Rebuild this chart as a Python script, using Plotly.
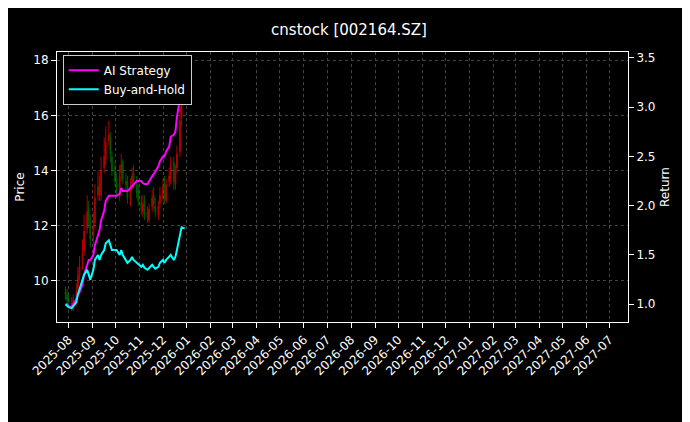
import pandas as pd
import plotly.graph_objects as go

# trading days sampled every other business day
dates = pd.bdate_range("2025-07-28", periods=56, freq="2B")

close = [9.5, 9.3, 9.2, 9.1, 9.3, 9.6, 10.2, 10.5, 11.0, 11.8, 12.5, 12.2, 11.5, 12.0,
         13.0, 13.4, 13.2, 14.0, 14.5, 15.0, 15.3, 14.6, 14.0, 13.6, 13.2, 13.8, 14.2, 13.7,
         13.5, 13.0, 13.4, 13.8, 13.6, 13.2, 12.9, 12.6, 12.8, 12.4, 12.3, 12.6, 13.0, 12.8,
         12.5, 12.7, 13.1, 13.4, 13.0, 13.5, 13.8, 14.2, 13.6, 14.0, 14.6, 15.8, 16.8, 17.5]
open_ = [9.6, 9.5, 9.3, 9.2, 9.1, 9.3, 9.7, 10.2, 10.6, 11.1, 11.9, 12.6, 12.2, 11.6,
         12.1, 13.1, 13.5, 13.1, 14.1, 14.4, 15.1, 15.2, 14.5, 14.1, 13.7, 13.1, 13.9, 14.3,
         13.6, 13.6, 12.9, 13.5, 13.9, 13.5, 13.3, 12.8, 12.5, 12.9, 12.5, 12.2, 12.7, 13.1,
         12.7, 12.4, 12.8, 13.0, 13.5, 12.9, 13.6, 13.7, 14.3, 13.5, 14.1, 14.7, 15.9, 16.7]
high = [9.8, 9.7, 9.5, 9.4, 9.5, 9.9, 10.5, 10.9, 11.5, 12.4, 13.1, 12.9, 12.4, 12.5,
        13.5, 14.0, 13.8, 14.5, 15.2, 15.6, 15.8, 15.4, 14.7, 14.3, 13.9, 14.2, 14.6, 14.4,
        13.9, 13.8, 13.7, 14.1, 14.2, 13.8, 13.5, 13.1, 13.1, 13.1, 12.7, 12.8, 13.3, 13.4,
        13.0, 12.9, 13.4, 13.7, 13.8, 13.7, 14.1, 14.5, 14.5, 14.2, 14.9, 16.3, 17.2, 18.0]
low = [9.3, 9.1, 9.0, 8.9, 8.9, 9.1, 9.5, 10.0, 10.4, 10.9, 11.7, 11.9, 11.2, 11.3,
       11.9, 12.9, 12.9, 12.9, 13.9, 14.2, 14.9, 14.3, 13.8, 13.4, 13.0, 12.9, 13.6, 13.5,
       13.2, 12.8, 12.7, 13.3, 13.4, 13.0, 12.7, 12.4, 12.3, 12.2, 12.1, 12.1, 12.5, 12.6,
       12.3, 12.2, 12.6, 12.9, 12.8, 12.8, 13.4, 13.5, 13.3, 13.3, 13.9, 14.5, 15.6, 16.4]

ai_return = [1.0, 1.0, 0.98, 0.97, 1.0, 1.05, 1.1, 1.12, 1.2, 1.3, 1.4, 1.45, 1.45, 1.5,
             1.6, 1.7, 1.75, 1.85, 1.95, 2.05, 2.1, 2.1, 2.1, 2.1, 2.1, 2.12, 2.18, 2.15,
             2.15, 2.15, 2.18, 2.2, 2.22, 2.25, 2.25, 2.25, 2.23, 2.22, 2.22, 2.25, 2.3, 2.32,
             2.35, 2.4, 2.45, 2.5, 2.5, 2.55, 2.6, 2.7, 2.72, 2.75, 2.9, 3.1, 3.3, 3.4]
bh_return = [1.0, 0.98, 0.97, 0.96, 0.98, 1.02, 1.1, 1.15, 1.25, 1.3, 1.35, 1.3, 1.25, 1.35,
             1.45, 1.5, 1.45, 1.5, 1.55, 1.62, 1.65, 1.6, 1.55, 1.55, 1.55, 1.5, 1.55, 1.5,
             1.45, 1.42, 1.45, 1.48, 1.45, 1.42, 1.4, 1.38, 1.4, 1.37, 1.35, 1.37, 1.4, 1.38,
             1.36, 1.38, 1.42, 1.45, 1.42, 1.45, 1.48, 1.5, 1.45, 1.48, 1.55, 1.7, 1.78, 1.77]

month_ticks = pd.date_range("2025-08-01", "2027-07-01", freq="MS")

fig = go.Figure()
fig.add_trace(go.Candlestick(
    x=dates, open=open_, high=high, low=low, close=close,
    increasing=dict(line=dict(color="red", width=1), fillcolor="red"),
    decreasing=dict(line=dict(color="green", width=1), fillcolor="green"),
    opacity=0.7, showlegend=False, whiskerwidth=0,
))
fig.add_trace(go.Scatter(x=dates, y=ai_return, yaxis="y2", mode="lines",
                         name="AI Strategy", line=dict(color="#ff00ff", width=2)))
fig.add_trace(go.Scatter(x=dates, y=bh_return, yaxis="y2", mode="lines",
                         name="Buy-and-Hold", line=dict(color="#00ffff", width=2)))

axis_common = dict(showline=True, linecolor="white", ticks="outside",
                   tickcolor="white", zeroline=False)
grid = dict(showgrid=True, gridcolor="#444", griddash="dot", gridwidth=0.5)
fig.update_layout(
    width=682, height=414,
    paper_bgcolor="black", plot_bgcolor="black",
    font=dict(family="DejaVu Sans", color="white", size=12),
    title=dict(text="cnstock [002164.SZ]", x=0.5, y=0.96, font=dict(size=15)),
    margin=dict(l=49, r=62, t=44, b=100),
    xaxis=dict(axis_common, **grid, range=["2025-07-17", "2027-07-25"], tickvals=month_ticks,
               ticktext=[d.strftime("%Y-%m") for d in month_ticks], tickangle=-45,
               rangeslider=dict(visible=False), mirror=True),
    yaxis=dict(axis_common, **grid, title=dict(text="Price", font=dict(size=12), standoff=6),
               range=[8.5, 18.3], dtick=2, mirror=True),
    yaxis2=dict(axis_common, title=dict(text="Return", font=dict(size=12), standoff=6),
                overlaying="y", side="right", range=[0.82, 3.56], dtick=0.5,
                tickformat=".1f", showgrid=False),
    legend=dict(x=0.01, y=0.99, xanchor="left", yanchor="top", bgcolor="black",
                bordercolor="#ccc", borderwidth=1, font=dict(size=12)),
)

fig.write_html("out.html")
